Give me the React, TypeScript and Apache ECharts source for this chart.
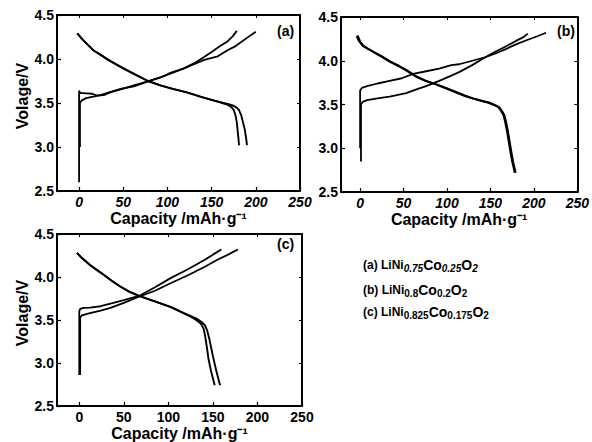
import React, { useEffect, useRef } from "react";
import * as echarts from "echarts";

const FONT = "'Liberation Sans', Arial, sans-serif";

const X_TICKS = [0, 50, 100, 150, 200, 250];
const X_NAME = "Capacity /mAh·g⁻¹";
const Y_NAME = "Volage/V";

// ---------- Panel (a) LiNi0.75Co0.25O2 ----------
const A_CHARGE_1 = [
  [0, 2.6], [0, 3.64], [1, 3.615], [8, 3.61], [15, 3.605], [20, 3.585], [28, 3.59],
  [35, 3.62], [47, 3.655], [62, 3.7], [78, 3.745], [92, 3.79], [104, 3.835],
  [118, 3.89], [130, 3.95], [141, 4.02], [150, 4.08], [160, 4.15], [168, 4.2],
  [174, 4.26], [178.5, 4.32],
];
const A_CHARGE_2 = [
  [1, 3.0], [1, 3.5], [3, 3.53], [8, 3.555], [24, 3.59], [47, 3.66], [62, 3.69],
  [78, 3.745], [92, 3.79], [104, 3.845], [118, 3.89], [130, 3.94], [141.6, 3.99],
  [157, 4.03], [168, 4.1], [176, 4.14], [190, 4.24], [200, 4.31],
];
const A_DISCHARGE_1 = [
  [-2, 4.29], [4, 4.22], [10, 4.16], [16, 4.1], [24, 4.05], [33, 3.99], [47, 3.91],
  [62, 3.83], [78, 3.75], [92, 3.7], [106, 3.66], [122, 3.62], [138, 3.57],
  [152, 3.53], [162, 3.5], [167, 3.485], [171, 3.465], [173.5, 3.44], [175, 3.42],
  [177, 3.36], [178.5, 3.28], [179.5, 3.18], [180.5, 3.08], [181, 3.02],
];
const A_DISCHARGE_2 = [
  [-2, 4.29], [4, 4.22], [10, 4.16], [16, 4.1], [24, 4.05], [33, 3.99], [47, 3.91],
  [62, 3.83], [78, 3.75], [92, 3.7], [106, 3.66], [122, 3.62], [138, 3.57],
  [152, 3.53], [162, 3.505], [168, 3.49], [173, 3.475], [178, 3.45], [181, 3.42],
  [183.5, 3.36], [185.5, 3.28], [187.5, 3.2], [189, 3.1], [190, 3.02],
];

// ---------- Panel (b) LiNi0.8Co0.2O2 ----------
const B_CHARGE_1 = [
  [0, 3.0], [0, 3.66], [2, 3.69], [8, 3.71], [20, 3.74], [34, 3.77], [48, 3.8],
  [61, 3.85], [76, 3.88], [91, 3.91], [105, 3.95], [114, 3.96], [129, 4.0],
  [144, 4.04], [155, 4.08], [167, 4.13], [180, 4.19], [193, 4.24], [204, 4.28],
  [214, 4.32],
];
const B_CHARGE_2 = [
  [1, 2.85], [1, 3.5], [3, 3.53], [8, 3.55], [20, 3.57], [34, 3.59], [53, 3.63],
  [64, 3.67], [76, 3.71], [91, 3.77], [105, 3.83], [114, 3.87], [129, 3.95],
  [144, 4.04], [155, 4.1], [167, 4.16], [180, 4.23], [188, 4.27], [193, 4.31],
];
const B_DISCHARGE_1 = [
  [-4, 4.28], [-1, 4.22], [3, 4.17], [8, 4.14], [15, 4.1], [24, 4.05], [34, 3.99],
  [44, 3.94], [53, 3.89], [64, 3.82], [75, 3.77], [87, 3.73], [100, 3.68],
  [110, 3.64], [120, 3.6], [129, 3.57], [140, 3.54], [148, 3.52], [155, 3.49],
  [159, 3.47], [162, 3.43], [165, 3.38], [167, 3.3], [169, 3.2], [171, 3.08],
  [173, 2.96], [175, 2.85], [178, 2.72],
];
const B_DISCHARGE_2 = [
  [-3, 4.29], [0, 4.22], [4, 4.17], [9, 4.14], [16, 4.1], [25, 4.05], [35, 3.99],
  [45, 3.94], [54, 3.89], [65, 3.82], [76, 3.77], [88, 3.73], [101, 3.68],
  [111, 3.64], [121, 3.6], [130, 3.57], [141, 3.54], [149, 3.52], [156, 3.49],
  [160, 3.47], [163, 3.43], [166, 3.38], [168, 3.3], [170, 3.2], [172, 3.08],
  [174, 2.96], [176, 2.85], [179, 2.72],
];

// ---------- Panel (c) LiNi0.825Co0.175O2 ----------
const C_CHARGE_1 = [
  [0, 2.86], [0, 3.6], [1, 3.63], [5, 3.64], [12, 3.645], [24, 3.66], [35, 3.69],
  [50, 3.73], [67, 3.78], [85, 3.88], [103, 3.99], [122, 4.09], [141, 4.2],
  [150, 4.26], [159.5, 4.32],
];
const C_CHARGE_2 = [
  [1, 2.86], [1, 3.53], [3, 3.555], [12, 3.58], [24, 3.61], [35, 3.64], [50, 3.7],
  [67, 3.77], [85, 3.84], [103, 3.93], [122, 4.02], [141, 4.12], [155, 4.2],
  [167, 4.26], [178, 4.32],
];
const C_DISCHARGE_1 = [
  [-2.6, 4.28], [3, 4.22], [12, 4.14], [20, 4.08], [27, 4.03], [36, 3.96],
  [46, 3.89], [56, 3.83], [67, 3.78], [84, 3.72], [103, 3.65], [113, 3.6],
  [122, 3.555], [130, 3.51], [135, 3.47], [137, 3.45], [139.5, 3.4], [141, 3.33],
  [143, 3.2], [145, 3.05], [148, 2.9], [152, 2.74],
];
const C_DISCHARGE_2 = [
  [-2.6, 4.28], [3, 4.22], [12, 4.14], [20, 4.08], [27, 4.03], [36, 3.96],
  [46, 3.89], [56, 3.83], [67, 3.78], [84, 3.72], [103, 3.65], [113, 3.6],
  [122, 3.56], [131, 3.52], [137, 3.48], [141, 3.44], [143.5, 3.38], [146, 3.28],
  [148, 3.18], [150, 3.08], [154, 2.9], [158, 2.74],
];

const PANEL_LABELS = ["(a)", "(b)", "(c)"];

function xBottom(gridIndex: number, min: number, italic: boolean) {
  return {
    type: "value",
    gridIndex,
    min,
    max: 250,
    position: "bottom",
    name: X_NAME,
    nameLocation: "middle",
    nameGap: 19,
    nameTextStyle: { fontFamily: FONT, fontWeight: "bold", fontSize: 16, color: "#000" },
    axisLine: { show: true, onZero: false, lineStyle: { color: "#000", width: 2 } },
    axisTick: { show: true, inside: true, length: 4, customValues: X_TICKS, lineStyle: { color: "#000", width: 1.2 } },
    axisLabel: {
      customValues: X_TICKS,
      fontFamily: FONT,
      fontWeight: "bold",
      fontSize: 14,
      fontStyle: italic ? "italic" : "normal",
      color: "#000",
      margin: 4,
    },
    splitLine: { show: false },
  };
}

function xTop(gridIndex: number, min: number) {
  return {
    type: "value",
    gridIndex,
    min,
    max: 250,
    position: "top",
    axisLine: { show: true, onZero: false, lineStyle: { color: "#000", width: 2 } },
    axisTick: { show: true, inside: true, length: 3, customValues: X_TICKS, lineStyle: { color: "#000", width: 1 } },
    axisLabel: { show: false },
    splitLine: { show: false },
  };
}

function yLeft(gridIndex: number, withName: boolean) {
  return {
    type: "value",
    gridIndex,
    min: 2.5,
    max: 4.5,
    interval: 0.5,
    position: "left",
    name: withName ? Y_NAME : "",
    nameLocation: "middle",
    nameGap: 27,
    nameTextStyle: {
      fontFamily: FONT,
      fontWeight: "bold",
      fontSize: 16,
      color: "#000",
      padding: [0, 0, 0, 14],
    },
    axisLine: { show: true, onZero: false, lineStyle: { color: "#000", width: 2 } },
    axisTick: { show: true, inside: true, length: 4, lineStyle: { color: "#000", width: 1.2 } },
    axisLabel: {
      formatter: (v: number) => v.toFixed(1),
      fontFamily: FONT,
      fontWeight: "bold",
      fontSize: 14,
      color: "#000",
      margin: 3,
    },
    splitLine: { show: false },
  };
}

function yRight(gridIndex: number) {
  return {
    type: "value",
    gridIndex,
    min: 2.5,
    max: 4.5,
    interval: 0.5,
    position: "right",
    axisLine: { show: true, onZero: false, lineStyle: { color: "#000", width: 2 } },
    axisTick: { show: true, inside: true, length: 3, lineStyle: { color: "#000", width: 1 } },
    axisLabel: { show: false },
    splitLine: { show: false },
  };
}

function line(name: string, data: number[][], idx: number, width: number) {
  return {
    type: "line",
    name,
    data,
    xAxisIndex: idx,
    yAxisIndex: idx,
    showSymbol: false,
    symbol: "none",
    smooth: false,
    lineStyle: { color: "#000", width },
    silent: true,
  };
}

function legendText(top: number, text: string, italicSub: boolean) {
  return {
    type: "text",
    left: 363,
    top,
    style: {
      text,
      fill: "#000",
      rich: {
        n: { fontFamily: FONT, fontWeight: "bold", fontSize: 12, lineHeight: 17, fill: "#000" },
        b: { fontFamily: FONT, fontWeight: "bold", fontSize: 14, lineHeight: 17, fill: "#000" },
        s: {
          fontFamily: FONT,
          fontWeight: "bold",
          fontSize: 10,
          lineHeight: 9,
          verticalAlign: "bottom",
          fontStyle: italicSub ? "italic" : "normal",
          fill: "#000",
        },
      },
    },
  };
}

export default function App() {
  const ref = useRef<HTMLDivElement>(null);

  useEffect(() => {
    if (!ref.current) return;
    const chart = echarts.init(ref.current, undefined, { renderer: "svg" });
    const option = {
      animation: false,
      backgroundColor: "#fff",
      grid: [
        { left: 57, top: 15, width: 243, height: 176 },
        { left: 341, top: 17, width: 237, height: 175 },
        { left: 57, top: 234, width: 245, height: 176 },
      ],
      xAxis: [
        xBottom(0, -25, true),
        xBottom(1, -22, true),
        xBottom(2, -25, false),
        xTop(0, -25),
        xTop(1, -22),
        xTop(2, -25),
      ],
      yAxis: [
        yLeft(0, true),
        yLeft(1, false),
        yLeft(2, true),
        yRight(0),
        yRight(1),
        yRight(2),
      ],
      series: [
        line("a-charge-1", A_CHARGE_1, 0, 1.8),
        line("a-charge-2", A_CHARGE_2, 0, 1.8),
        line("a-discharge-1", A_DISCHARGE_1, 0, 1.9),
        line("a-discharge-2", A_DISCHARGE_2, 0, 1.9),
        line("b-charge-1", B_CHARGE_1, 1, 1.8),
        line("b-charge-2", B_CHARGE_2, 1, 1.8),
        line("b-discharge-1", B_DISCHARGE_1, 1, 2),
        line("b-discharge-2", B_DISCHARGE_2, 1, 2),
        line("c-charge-1", C_CHARGE_1, 2, 1.8),
        line("c-charge-2", C_CHARGE_2, 2, 1.8),
        line("c-discharge-1", C_DISCHARGE_1, 2, 1.9),
        line("c-discharge-2", C_DISCHARGE_2, 2, 1.9),
      ],
      graphic: [
        {
          type: "text",
          left: 277,
          top: 24,
          style: { text: PANEL_LABELS[0], fontFamily: FONT, fontWeight: "bold", fontSize: 14, fill: "#000" },
        },
        {
          type: "text",
          left: 557,
          top: 24,
          style: { text: PANEL_LABELS[1], fontFamily: FONT, fontWeight: "bold", fontSize: 14, fill: "#000" },
        },
        {
          type: "text",
          left: 277,
          top: 237,
          style: { text: PANEL_LABELS[2], fontFamily: FONT, fontWeight: "bold", fontSize: 14, fill: "#000" },
        },
        legendText(258, "{n|(a) LiNi}{s|0.75}{b|Co}{s|0.25}{b|O}{s|2}", true),
        legendText(283, "{n|(b) LiNi}{s|0.8}{b|Co}{s|0.2}{b|O}{s|2}", false),
        legendText(305, "{n|(c) LiNi}{s|0.825}{b|Co}{s|0.175}{b|O}{s|2}", false),
      ],
    };
    chart.setOption(option as any);
    return () => chart.dispose();
  }, []);

  return (
    <div
      ref={ref}
      style={{ position: "absolute", left: 0, top: 0, width: 592, height: 442, background: "#fff" }}
    />
  );
}
